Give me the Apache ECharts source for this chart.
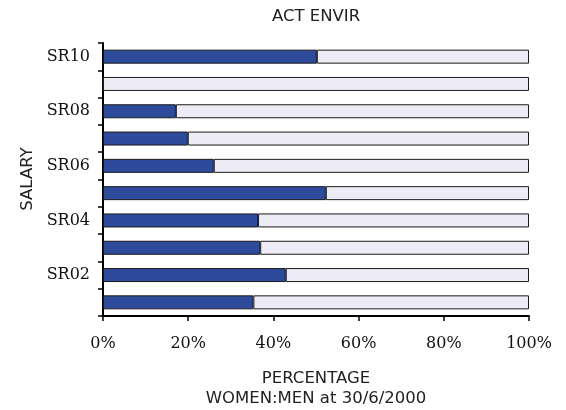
<html>
<head>
    <title>ACT ENVIR</title>
    <script src="https://cdn.jsdelivr.net/npm/echarts@6/dist/echarts.min.js"></script>
</head>
<body style="margin:0">

<div id="main" style="width: 566px;height:410px;"></div>

<script type="text/javascript">
    // salary ranges, bottom to top
    var categories = ['SR01', 'SR02', 'SR03', 'SR04', 'SR05', 'SR06', 'SR07', 'SR08', 'SR09', 'SR10'];
    // share of women / men (%)
    var women = [35.3, 42.9, 36.9, 36.4, 52.3, 26.0, 19.9, 17.1, 0, 50.2];
    var men = [64.7, 57.1, 63.1, 63.6, 47.7, 74.0, 80.1, 82.9, 100, 49.8];
    var xTicks = [0, 20, 40, 60, 80, 100];

    var sans = 'DejaVu Sans';
    var serif = 'DejaVu Serif';

    function label(text, x, y, rot) {
        return {
            type: 'text',
            x: x,
            y: y,
            rotation: rot || 0,
            style: {
                text: text,
                fontFamily: sans,
                fontSize: 16.5,
                fill: '#222',
                align: 'center',
                verticalAlign: 'middle'
            }
        };
    }

    var myChart = echarts.init(document.getElementById('main'));

    var option = {
        animation: false,
        graphic: [
            label('ACT ENVIR', 316, 17),
            label('PERCENTAGE', 316, 379),
            label('WOMEN:MEN at 30/6/2000', 316, 399),
            label('SALARY', 28, 179, Math.PI / 2)
        ],
        grid: {left: 103, right: 37, top: 43, bottom: 94, containLabel: false, outerBoundsMode: 'none'},
        xAxis: {
            type: 'value',
            min: xTicks[0],
            max: xTicks[xTicks.length - 1],
            interval: 20,
            axisLine: {show: true, lineStyle: {color: '#000', width: 2}},
            axisTick: {show: true, length: 5, lineStyle: {color: '#000', width: 1.5}},
            splitLine: {show: false},
            axisLabel: {
                formatter: '{value}%',
                fontFamily: serif,
                fontSize: 16,
                color: '#111',
                margin: 12
            }
        },
        yAxis: {
            type: 'category',
            data: categories,
            axisLine: {show: true, lineStyle: {color: '#000', width: 2}},
            axisTick: {show: true, interval: 0, length: 5, lineStyle: {color: '#000', width: 1.5}},
            axisLabel: {
                interval: function (index) { return index % 2 === 1; },
                fontFamily: serif,
                fontSize: 16,
                color: '#111',
                margin: 13
            }
        },
        series: [{
            name: 'Women',
            type: 'bar',
            stack: 'total',
            barWidth: 14,
            data: women,
            itemStyle: {color: '#2E4B9B', borderColor: '#1a1a1a', borderWidth: 1}
        }, {
            name: 'Men',
            type: 'bar',
            stack: 'total',
            barWidth: 14,
            data: men,
            itemStyle: {color: '#EDECF6', borderColor: '#1a1a1a', borderWidth: 1}
        }]
    };

    myChart.setOption(option);
</script>
</body>
</html>
